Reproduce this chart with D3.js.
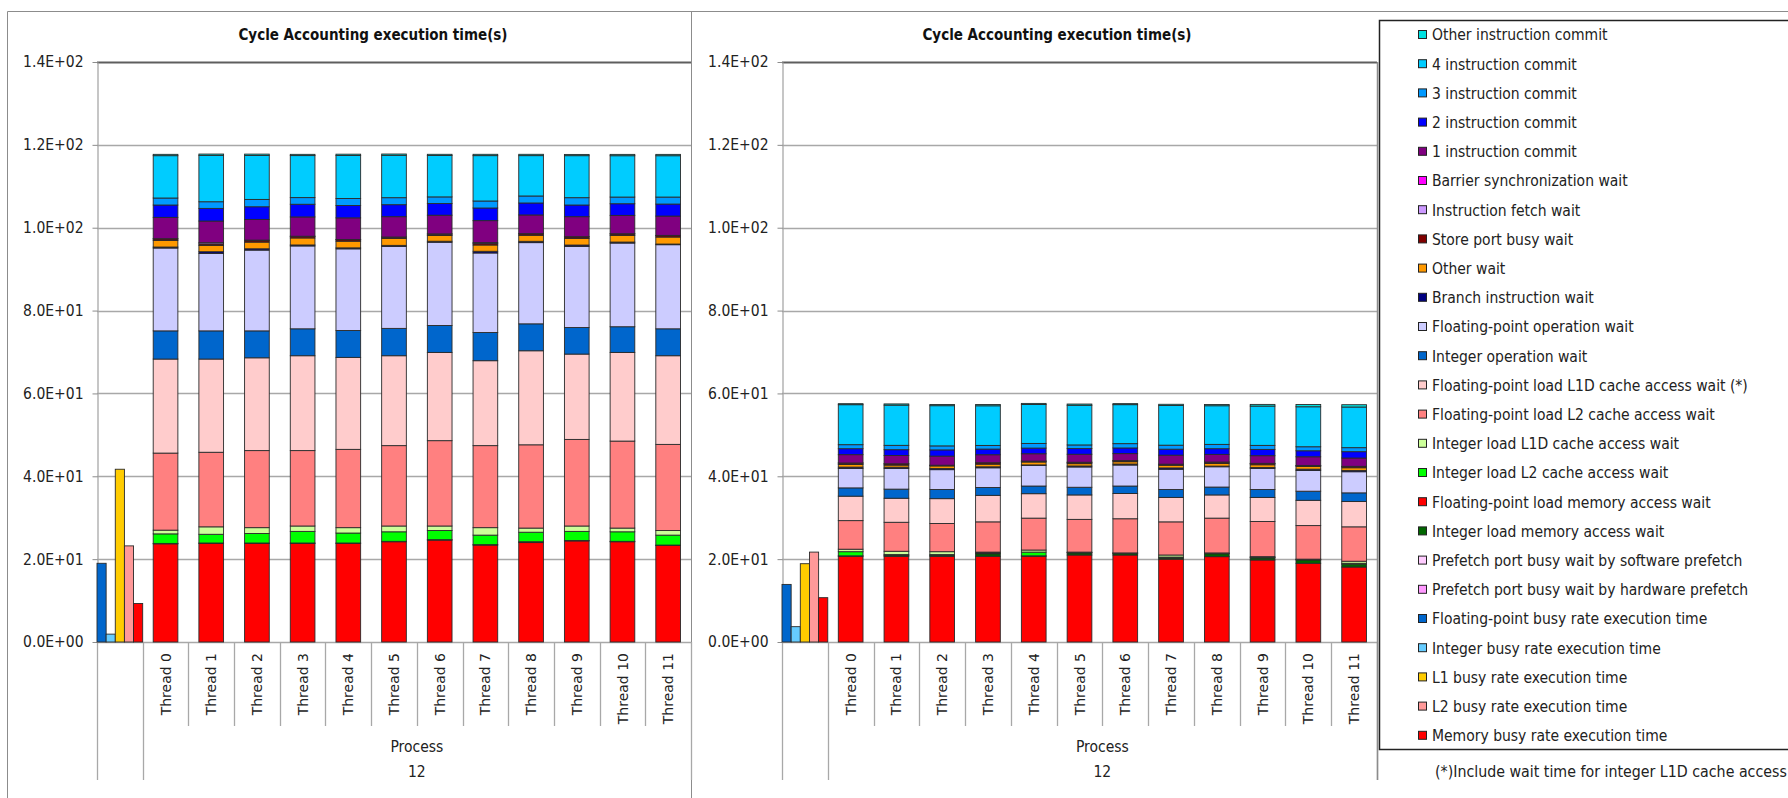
<!DOCTYPE html>
<html>
<head>
<meta charset="utf-8">
<script src="https://cdn.jsdelivr.net/npm/d3@7"></script>
<style>
  body { margin: 0; background: #fff; }
  svg { display: block; font-family: 'DejaVu Sans Condensed', 'DejaVu Sans', sans-serif; }
</style>
</head>
<body>
<div class="chart"></div>
<script>
// categories
const threads = ['Thread 0', 'Thread 1', 'Thread 2', 'Thread 3', 'Thread 4', 'Thread 5',
    'Thread 6', 'Thread 7', 'Thread 8', 'Thread 9', 'Thread 10', 'Thread 11']
const categories = ['', ...threads]
const groupLabel = ['Process', '12']
const yTicks = [0, 20, 40, 60, 80, 100, 120, 140]
const title = 'Cycle Accounting execution time(s)'
const footnote = '(*)Include wait time for integer L1D cache access'

// legend, top to bottom
const legendNames = ['Other instruction commit', '4 instruction commit', '3 instruction commit',
    '2 instruction commit', '1 instruction commit', 'Barrier synchronization wait',
    'Instruction fetch wait', 'Store port busy wait', 'Other wait', 'Branch instruction wait',
    'Floating-point operation wait', 'Integer operation wait',
    'Floating-point load L1D cache access wait (*)', 'Floating-point load L2 cache access wait',
    'Integer load L1D cache access wait', 'Integer load L2 cache access wait',
    'Floating-point load memory access wait', 'Integer load memory access wait',
    'Prefetch port busy wait by software prefetch', 'Prefetch port busy wait by hardware prefetch',
    'Floating-point busy rate execution time', 'Integer busy rate execution time',
    'L1 busy rate execution time', 'L2 busy rate execution time', 'Memory busy rate execution time']
const legendColors = ['#00E0E0', '#00CCFF', '#0099FF', '#0000FF', '#800080', '#FF00FF',
    '#CC99FF', '#800000', '#FF9900', '#000080', '#CCCCFF', '#0066CC', '#FFCCCC', '#FF8080',
    '#CCFF99', '#00FF00', '#FF0000', '#006600', '#FFCCFF', '#FF99FF', '#0066CC', '#66CCFF',
    '#FFCC00', '#FF9999', '#FF0000']

// stacked series, bottom to top
const stackKeys = ['Floating-point load memory access wait', 'Integer load memory access wait',
    'Integer load L2 cache access wait', 'Integer load L1D cache access wait',
    'Floating-point load L2 cache access wait', 'Floating-point load L1D cache access wait (*)',
    'Integer operation wait', 'Floating-point operation wait', 'Branch instruction wait',
    'Other wait', 'Store port busy wait', 'Instruction fetch wait', '1 instruction commit',
    '2 instruction commit', '3 instruction commit', '4 instruction commit', 'Other instruction commit']
const busyNames = ['Floating-point busy rate execution time', 'Integer busy rate execution time',
    'L1 busy rate execution time', 'L2 busy rate execution time', 'Memory busy rate execution time']

// left chart
const leftFpMem = [23.7, 23.8, 23.8, 23.8, 23.8, 24.2, 24.6, 23.4, 24.0, 24.4, 24.2, 23.3]
const leftIntMem = [0.1, 0.1, 0.1, 0.1, 0.1, 0.1, 0.1, 0.1, 0.2, 0.1, 0.1, 0.1]
const leftIntL2 = [2.3, 2.1, 2.3, 2.8, 2.4, 2.3, 2.2, 2.3, 2.3, 2.2, 2.3, 2.4]
const leftIntL1 = [0.9, 1.8, 1.4, 1.3, 1.3, 1.4, 1.1, 1.8, 1.0, 1.3, 0.9, 1.1]
const leftFpL2 = [18.6, 18.0, 18.6, 18.2, 18.9, 19.4, 20.6, 19.8, 20.1, 20.9, 21.0, 20.8]
const leftFpL1 = [22.7, 22.5, 22.4, 22.9, 22.2, 21.7, 21.3, 20.5, 22.7, 20.6, 21.4, 21.4]
const leftIntOp = [6.8, 6.8, 6.5, 6.5, 6.5, 6.6, 6.5, 6.8, 6.5, 6.4, 6.2, 6.5]
const leftFpOp = [20.0, 18.7, 19.5, 20.0, 19.7, 19.8, 20.1, 19.2, 19.6, 19.6, 20.2, 20.3]
const leftBranch = [0.24, 0.41, 0.32, 0.24, 0.24, 0.24, 0.24, 0.41, 0.32, 0.32, 0.24, 0.16]
const leftOtherWait = [1.61, 1.52, 1.61, 1.69, 1.61, 1.69, 1.37, 1.52, 1.45, 1.61, 1.61, 1.69]
const leftStore = [0.35, 0.35, 0.35, 0.4, 0.35, 0.3, 0.35, 0.35, 0.35, 0.35, 0.35, 0.35]
const leftFetch = [0.05, 0.3, 0.13, 0.01, 0.05, 0.03, 0.05, 0.22, 0.05, 0.06, 0.05, 0.05]
const leftCommit1 = [5.15, 5.23, 4.99, 4.66, 5.23, 4.9, 4.51, 5.31, 4.51, 4.82, 4.43, 4.66]
const leftCommit2 = [2.98, 3.05, 3.06, 3.06, 2.98, 2.9, 2.81, 3.05, 2.89, 2.82, 2.81, 2.9]
const leftCommit3 = [1.69, 1.61, 1.77, 1.61, 1.69, 1.69, 1.61, 1.69, 1.69, 1.77, 1.61, 1.69]
const leftCommit4 = [10.22, 11.19, 10.62, 10.14, 10.38, 10.22, 9.98, 10.95, 9.74, 10.14, 9.98, 9.98]
const leftCommitOther = [0.32, 0.32, 0.32, 0.3, 0.32, 0.32, 0.3, 0.32, 0.32, 0.3, 0.32, 0.32]
const leftBusy = [19.0, 1.9, 41.7, 23.2, 9.3]

// right chart
const rightFpMem = [20.7, 20.7, 20.7, 20.7, 20.7, 21.0, 21.0, 20.0, 20.6, 19.8, 19.0, 18.1]
const rightIntMem = [0.1, 0.2, 0.2, 0.6, 0.1, 0.5, 0.4, 0.3, 0.7, 0.5, 0.8, 0.7]
const rightIntL2 = [1.0, 0.2, 0.2, 0.2, 0.9, 0.1, 0.05, 0.2, 0.1, 0.1, 0.1, 0.2]
const rightIntL1 = [0.6, 0.8, 0.7, 0.2, 0.5, 0.1, 0.05, 0.5, 0.1, 0.2, 0.1, 0.5]
const rightFpL2 = [6.9, 7.0, 6.8, 7.3, 7.7, 7.9, 8.25, 8.0, 8.4, 8.5, 8.1, 8.3]
const rightFpL1 = [5.9, 5.8, 6.0, 6.4, 5.9, 5.9, 6.1, 5.9, 5.6, 5.8, 6.1, 6.1]
const rightIntOp = [2.0, 2.2, 2.2, 1.9, 1.85, 1.85, 1.8, 1.9, 1.9, 1.9, 2.2, 2.1]
const rightFpOp = [4.7, 5.0, 4.8, 4.75, 5.0, 4.9, 5.07, 4.9, 4.9, 5.1, 5.0, 5.1]
const rightBranch = [0.32, 0.3, 0.3, 0.24, 0.1, 0.24, 0.24, 0.32, 0.16, 0.24, 0.32, 0.32]
const rightOtherWait = [0.64, 0.5, 0.6, 0.64, 0.7, 0.56, 0.56, 0.64, 0.64, 0.64, 0.64, 0.64]
const rightStore = [0.33, 0.3, 0.15, 0.32, 0.2, 0.32, 0.24, 0.24, 0.32, 0.32, 0.24, 0.32]
const rightFetch = [0.02, 0.02, 0.02, 0.02, 0.02, 0.02, 0.02, 0.02, 0.02, 0.02, 0.02, 0.02]
const rightCommit1 = [2.01, 2.0, 2.2, 1.93, 1.77, 1.93, 1.69, 2.18, 1.85, 1.85, 2.09, 2.01]
const rightCommit2 = [1.44, 1.4, 1.5, 1.37, 1.37, 1.37, 1.37, 1.44, 1.37, 1.52, 1.45, 1.53]
const rightCommit3 = [0.97, 1.05, 0.97, 0.88, 1.12, 0.88, 1.04, 0.97, 1.04, 0.97, 0.97, 0.97]
const rightCommit4 = [9.65, 9.7, 9.7, 9.57, 9.41, 9.57, 9.41, 9.57, 9.33, 9.49, 9.65, 9.81]
const rightCommitOther = [0.25, 0.3, 0.3, 0.3, 0.25, 0.3, 0.25, 0.3, 0.3, 0.4, 0.56, 0.56]
const rightBusy = [13.9, 3.7, 18.9, 21.7, 10.7]

const leftStack = [leftFpMem, leftIntMem, leftIntL2, leftIntL1, leftFpL2, leftFpL1, leftIntOp,
    leftFpOp, leftBranch, leftOtherWait, leftStore, leftFetch, leftCommit1, leftCommit2,
    leftCommit3, leftCommit4, leftCommitOther]
const rightStack = [rightFpMem, rightIntMem, rightIntL2, rightIntL1, rightFpL2, rightFpL1,
    rightIntOp, rightFpOp, rightBranch, rightOtherWait, rightStore, rightFetch, rightCommit1,
    rightCommit2, rightCommit3, rightCommit4, rightCommitOther]

const color = d3.scaleOrdinal(legendNames, legendColors)

const svg = d3.select('.chart')
    .append('svg')
        .attr('width', 1788)
        .attr('height', 798)

// sheet borders
svg.append('path')
    .attr('d', 'M7.5,798V11.5H1788 M691.5,11.5V798')
    .attr('fill', 'none')
    .attr('stroke', '#8c8c8c')

//1.4E+02 style labels
const sci = (d) => {
    const [m, e] = d.toExponential(1).split('e')
    return `${m}E${e[0]}${e.slice(1).padStart(2, '0')}`
}

const drawPanel = (left, right, titleX, stackValues, busyValues, rightEdge) => {
    const g = svg.append('g')

    const x = d3.scaleBand()
        .domain(categories)
        .range([left, right])

    const y = d3.scaleLinear()
        .domain([0, 140])
        .range([642, 62])

    g.append('text')
        .attr('x', titleX)
        .attr('y', 40)
        .attr('text-anchor', 'middle')
        .attr('font-size', 15)
        .attr('font-weight', 'bold')
        .attr('fill', '#111')
        .text(title)

    //gridlines
    g.append('g')
        .selectAll('line')
        .data(yTicks)
        .join('line')
            .attr('x1', left)
            .attr('x2', right)
            .attr('y1', (d) => Math.round(y(d)) + 0.5)
            .attr('y2', (d) => Math.round(y(d)) + 0.5)
            .attr('stroke', (d) => d === 140 ? '#5e5e5e' : '#a8a8a8')
            .attr('stroke-width', (d) => d === 140 ? 2 : 1.3)

    const axis = g.append('g')
        .attr('transform', `translate(${left + 0.5},0)`)
        .call(d3.axisLeft(y)
            .tickValues(yTicks)
            .tickSize(5)
            .tickSizeOuter(0)
            .tickPadding(9)
            .tickFormat(sci))
        .attr('font-family', null)
        .attr('font-size', 15.5)

    axis.select('.domain').attr('stroke', '#a8a8a8').attr('stroke-width', 1.3)
    axis.selectAll('.tick line').attr('stroke', '#8c8c8c')
    axis.selectAll('text').attr('fill', '#222')

    //category dividers under the axis
    const bounds = d3.range(categories.length + 1).map((i) => left + i * x.step())
    g.append('g')
        .selectAll('line')
        .data(bounds)
        .join('line')
            .attr('x1', (d) => Math.round(d) + 0.5)
            .attr('x2', (d) => Math.round(d) + 0.5)
            .attr('y1', 642)
            .attr('y2', (d, i) => (i < 2 || i === categories.length) ? 780 : 726)
            .attr('stroke', '#a8a8a8')
            .attr('stroke-width', 1.3)

    if (rightEdge) {
        g.append('line')
            .attr('x1', right + 0.5)
            .attr('x2', right + 0.5)
            .attr('y1', 62)
            .attr('y2', 780)
            .attr('stroke', '#8c8c8c')
            .attr('stroke-width', 1.5)
    }

    g.append('g')
        .selectAll('text')
        .data(threads)
        .join('text')
            .attr('transform', (d) => `translate(${x(d) + x.bandwidth() / 2},653) rotate(-90)`)
            .attr('text-anchor', 'end')
            .attr('dy', '0.36em')
            .attr('font-family', 'DejaVu Sans')
            .attr('font-size', 14)
            .attr('fill', '#222')
            .text((d) => d)

    const groupX = (x(threads[0]) + right) / 2
    g.append('g')
        .selectAll('text')
        .data(groupLabel)
        .join('text')
            .attr('x', groupX)
            .attr('y', (d, i) => 752 + i * 25)
            .attr('text-anchor', 'middle')
            .attr('font-size', 15.5)
            .attr('fill', '#222')
            .text((d) => d)

    //stacked thread bars
    const rows = threads.map((t, i) => {
        const row = { thread: t }
        stackKeys.forEach((k, j) => { row[k] = stackValues[j][i] })
        return row
    })
    const series = d3.stack().keys(stackKeys)(rows)
    const barW = x.bandwidth() * 0.54
    const offset = (x.bandwidth() - barW) / 2

    g.append('g')
        .selectAll('g')
        .data(series)
        .join('g')
            .attr('fill', (d) => color(d.key))
        .selectAll('rect')
        .data((d) => d)
        .join('rect')
            .attr('x', (d) => x(d.data.thread) + offset)
            .attr('y', (d) => y(d[1]))
            .attr('width', barW)
            .attr('height', (d) => y(d[0]) - y(d[1]))
            .attr('stroke', '#2a2a2a')
            .attr('stroke-width', 0.9)

    //busy rate bars in the first (unlabelled) category
    const xb = d3.scaleBand()
        .domain(busyNames)
        .range([x(''), x('') + x.bandwidth()])

    g.append('g')
        .selectAll('rect')
        .data(busyValues)
        .join('rect')
            .attr('x', (d, i) => xb(busyNames[i]))
            .attr('y', (d) => y(d))
            .attr('width', xb.bandwidth())
            .attr('height', (d) => y(0) - y(d))
            .attr('fill', (d, i) => color(busyNames[i]))
            .attr('stroke', '#2a2a2a')
            .attr('stroke-width', 0.9)
}

drawPanel(97, 691, 373, leftStack, leftBusy, false)
drawPanel(782, 1377, 1057, rightStack, rightBusy, true)

//legend
const legend = svg.append('g')

legend.append('rect')
    .attr('x', 1379.5)
    .attr('y', 20.5)
    .attr('width', 500)
    .attr('height', 729)
    .attr('fill', '#fff')
    .attr('stroke', '#222')
    .attr('stroke-width', 1.5)

const items = legend.selectAll('g.item')
    .data(legendNames)
    .join('g')
        .attr('class', 'item')
        .attr('transform', (d, i) => `translate(1418,${35 + i * 29.2})`)

items.append('rect')
    .attr('x', 0.5)
    .attr('y', -4.5)
    .attr('width', 8)
    .attr('height', 8)
    .attr('fill', (d) => color(d))
    .attr('stroke', '#222')

items.append('text')
    .attr('x', 14)
    .attr('dy', '0.35em')
    .attr('font-size', 15.5)
    .attr('fill', '#222')
    .text((d) => d)

svg.append('text')
    .attr('x', 1435)
    .attr('y', 777)
    .attr('font-size', 15.8)
    .attr('fill', '#222')
    .text(footnote)
</script>
</body>
</html>
